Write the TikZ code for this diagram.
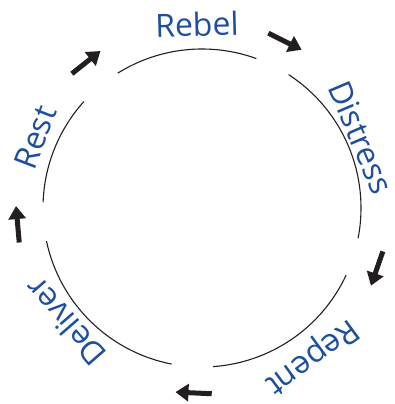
\documentclass[tikz,border=0pt]{standalone}
\usepackage{fontspec}
\setmainfont{Open Sans}
\usetikzlibrary{positioning, arrows.meta}
\definecolor{cyText}{HTML}{1D4F9E}
\definecolor{cyInk}{HTML}{231F20}
\tikzset{
    cyArc/.style={
        draw=cyInk,
        line width=1.1pt
    },
    cyStep/.style={
        font=\fontsize{32}{32}\selectfont,
        text=cyText,
        inner sep=0pt
    },
    % Arrows
    cyArrow/.style={
        -{Triangle[length=13pt, width=17pt]},
        line width=5pt,
        draw=cyInk
    }
}

\begin{document}
\begin{tikzpicture}[x=1pt, y=1pt]
    \useasboundingbox (-202,-196) rectangle (193,208);
    % circle, broken where the arrows sit
    \draw[cyArc] (70:159) arc[start angle=70, end angle=122, radius=159];
    \draw[cyArc] (138:159) arc[start angle=138, end angle=178, radius=159];
    \draw[cyArc] (192:159) arc[start angle=192, end angle=259, radius=159];
    \draw[cyArc] (274:159) arc[start angle=274, end angle=335, radius=159];
    \draw[cyArc] (349:159) arc[start angle=349, end angle=417, radius=159];
    % stages
    \node[cyStep, rotate=1.6] (rebel) at (91.6:184) {Rebel};
    \node[cyStep, rotate=-67] (distress) at (24:174) {Distress};
    \node[cyStep, rotate=-143.6] (repent) at (-53.6:184) {Repent};
    \node[cyStep, rotate=131] (deliver) at (220:178) {Deliver};
    \node[cyStep, rotate=69] (rest) at (157:181) {Rest};
    % arrow ends
    \coordinate (rebelOut) at (69.2:187);
    \coordinate (distressIn) at (57.8:187);
    \coordinate (distressOut) at (-13.5:186);
    \coordinate (repentIn) at (-24.7:186);
    \coordinate (repentOut) at (273:186);
    \coordinate (deliverIn) at (261.8:186);
    \coordinate (deliverOut) at (190.7:186);
    \coordinate (restIn) at (179.4:186);
    \coordinate (restOut) at (134.1:187);
    \coordinate (rebelIn) at (122.9:187);
    \draw[cyArrow] (rebelOut) -- (distressIn);
    \draw[cyArrow] (distressOut) -- (repentIn);
    \draw[cyArrow] (repentOut) -- (deliverIn);
    \draw[cyArrow] (deliverOut) -- (restIn);
    \draw[cyArrow] (restOut) -- (rebelIn);
\end{tikzpicture}
\end{document}
